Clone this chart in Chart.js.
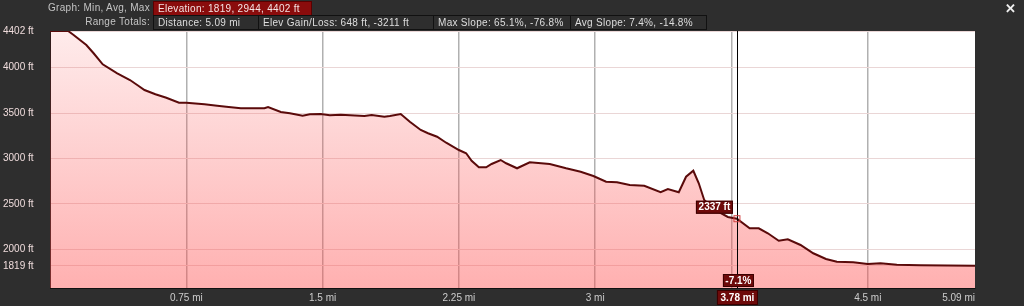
<!DOCTYPE html>
<html>
<head>
<meta charset="utf-8">
<script src="https://cdn.jsdelivr.net/npm/chart.js@4"></script>
<style>
  html, body { margin: 0; padding: 0; background: #2e2e2e; }
  #wrap { position: relative; width: 1024px; height: 306px; font-family: "Liberation Sans", Arial, sans-serif; font-size: 10px; }
  canvas { position: absolute; left: 0; top: 0; }
  .row { position: absolute; left: 0; height: 14px; line-height: 14px; white-space: nowrap; }
  .lbl { position: absolute; text-align: right; width: 150px; left: 0; color: #c4c4c4; letter-spacing: 0.3px; }
  .box { position: absolute; top: 0; height: 13px; line-height: 13px; padding-left: 4px; color: #dedede; border: 1px solid #111; box-sizing: border-box; height: 15px; letter-spacing: 0.3px; }
  .red { background: #8a0c0c; border-color: #5a0000; color: #f4e4e4; }
  #close { position: absolute; right: 8px; top: 1px; color: #f0f0f0; font: bold 13px "Liberation Sans", Arial, sans-serif; }
</style>
</head>
<body>
<div id="wrap">
  <canvas id="c" width="1024" height="306"></canvas>
  <div class="row" style="top:1px">
    <span class="lbl">Graph: Min, Avg, Max</span>
    <span class="box red" style="left:153px;width:159px">Elevation: 1819, 2944, 4402 ft</span>
  </div>
  <div class="row" style="top:15px">
    <span class="lbl">Range Totals:</span>
    <span class="box" style="left:153px;width:106px">Distance: 5.09 mi</span>
    <span class="box" style="left:258px;width:176px">Elev Gain/Loss: 648 ft, -3211 ft</span>
    <span class="box" style="left:433px;width:138px">Max Slope: 65.1%, -76.8%</span>
    <span class="box" style="left:570px;width:137px">Avg Slope: 7.4%, -14.8%</span>
  </div>
  <div id="close">&#x2715;</div>
</div>
<script>
// Perfil de elevación (distancia en millas, altura en pies)
const distMi = [0, 0.10, 0.13, 0.20, 0.24, 0.29, 0.37, 0.44, 0.48, 0.52, 0.58, 0.64, 0.71, 0.75,
  0.85, 0.92, 0.97, 1.05, 1.18, 1.20, 1.27, 1.32, 1.39, 1.43, 1.49, 1.54, 1.60, 1.73, 1.77,
  1.84, 1.87, 1.93, 1.98, 2.04, 2.08, 2.13, 2.18, 2.25, 2.29, 2.32, 2.36, 2.40, 2.43, 2.48,
  2.51, 2.57, 2.64, 2.75, 2.84, 2.92, 2.99, 3.06, 3.12, 3.19, 3.27, 3.36, 3.40, 3.46, 3.50,
  3.54, 3.57, 3.60, 3.66, 3.73, 3.78, 3.85, 3.90, 3.95, 4.01, 4.06, 4.13, 4.20, 4.27, 4.33,
  4.42, 4.50, 4.57, 4.66, 4.79, 5.09];
const elevFt = [4402, 4402, 4358, 4248, 4157, 4036, 3937, 3863, 3808, 3753, 3706, 3668, 3613, 3613,
  3596, 3580, 3569, 3552, 3552, 3566, 3511, 3497, 3470, 3486, 3489, 3475, 3481, 3467, 3478,
  3459, 3467, 3489, 3404, 3313, 3277, 3239, 3173, 3093, 3057, 2975, 2903, 2903, 2939, 2983,
  2947, 2892, 2958, 2939, 2892, 2854, 2807, 2744, 2738, 2708, 2700, 2628, 2664, 2628, 2799,
  2865, 2727, 2543, 2433, 2356, 2337, 2232, 2232, 2177, 2095, 2111, 2048, 1957, 1894, 1864,
  1858, 1839, 1847, 1831, 1825, 1819];

const xTicks = [0, 0.75, 1.5, 2.25, 3, 3.75, 4.5, 5.09];
const yTicks = [1819, 2000, 2500, 3000, 3500, 4000, 4402];

// Cursor (punto seleccionado)
const cursorMi = 3.78;
const cursorFt = 2337;
const cursorSlope = "-7.1%";

const points = distMi.map((d, i) => ({ x: d, y: elevFt[i] }));

const plotBg = {
  id: "plotBg",
  beforeDraw(chart) {
    const { ctx, chartArea: a } = chart;
    ctx.save();
    ctx.fillStyle = "#ffffff";
    ctx.fillRect(a.left, a.top, a.right - a.left, a.bottom - a.top);
    ctx.restore();
  }
};

function tag(ctx, text, x, y, w, h) {
  ctx.fillStyle = "#6e0a0a";
  ctx.fillRect(x, y, w, h);
  ctx.strokeStyle = "#3a0000";
  ctx.lineWidth = 1;
  ctx.strokeRect(x + 0.5, y + 0.5, w - 1, h - 1);
  ctx.fillStyle = "#ffffff";
  ctx.font = "bold 10px 'Liberation Sans', Arial, sans-serif";
  ctx.textAlign = "center";
  ctx.textBaseline = "middle";
  ctx.fillText(text, x + w / 2, y + h / 2 + 0.5);
}

const cursor = {
  id: "cursor",
  afterDraw(chart) {
    const { ctx, chartArea: a, scales } = chart;
    const px = scales.x.getPixelForValue(cursorMi);
    const py = scales.y.getPixelForValue(cursorFt);
    ctx.save();
    ctx.strokeStyle = "#000";
    ctx.lineWidth = 1;
    ctx.beginPath();
    ctx.moveTo(Math.round(px) + 0.5, a.top);
    ctx.lineTo(Math.round(px) + 0.5, a.bottom);
    ctx.stroke();
    ctx.strokeStyle = "#d04040";
    ctx.strokeRect(px - 3, py - 3, 6, 6);
    tag(ctx, cursorFt + " ft", px - 41, py - 18, 37, 13);
    tag(ctx, cursorSlope, px - 14, a.bottom - 14, 31, 13);
    tag(ctx, cursorMi + " mi", px - 20, a.bottom + 2, 41, 15);
    ctx.restore();
  }
};

new Chart(document.getElementById("c"), {
  type: "line",
  data: {
    datasets: [{
      data: points,
      borderColor: "#5a0a0a",
      borderWidth: 2,
      pointRadius: 0,
      tension: 0,
      fill: "start",
      backgroundColor: (c) => {
        const a = c.chart.chartArea;
        if (!a) return "rgba(255,90,90,0.3)";
        const g = c.chart.ctx.createLinearGradient(0, a.top, 0, a.bottom);
        g.addColorStop(0, "rgba(250,90,90,0.12)");
        g.addColorStop(1, "rgba(255,80,80,0.45)");
        return g;
      }
    }]
  },
  options: {
    responsive: false,
    animation: false,
    layout: { padding: { left: 3, right: 49, top: 31, bottom: 0 } },
    plugins: { legend: { display: false }, tooltip: { enabled: false } },
    scales: {
      x: {
        type: "linear",
        min: 0,
        max: 5.09,
        afterBuildTicks: (s) => { s.ticks = xTicks.map(v => ({ value: v })); },
        afterFit: (s) => { s.height = 18; },
        ticks: {
          autoSkip: false,
          maxRotation: 0,
          align: "inner",
          padding: 4,
          color: "#cccccc",
          font: { family: "'Liberation Sans', Arial, sans-serif", size: 10 },
          callback: (v) => (v === 0 || v === 3.75) ? "" : v + " mi"
        },
        grid: {
          drawTicks: false,
          lineWidth: 1.5,
          color: (c) => (c.tick && (c.tick.value === 0 || c.tick.value === 5.09)) ? "rgba(0,0,0,0)" : "#b0b0b0"
        },
        border: { display: true, color: "#111", width: 1 }
      },
      y: {
        min: 1575,
        max: 4402,
        afterBuildTicks: (s) => { s.ticks = yTicks.map(v => ({ value: v })); },
        afterFit: (s) => { s.width = 47; },
        ticks: {
          crossAlign: "far",
          color: "#efdcdc",
          font: { family: "'Liberation Sans', Arial, sans-serif", size: 10 },
          callback: (v) => v + " ft"
        },
        grid: { drawTicks: false, color: "#ead6d6", lineWidth: 1 },
        border: { display: true, color: "#111", width: 1 }
      }
    }
  },
  plugins: [plotBg, cursor]
});
</script>
</body>
</html>
